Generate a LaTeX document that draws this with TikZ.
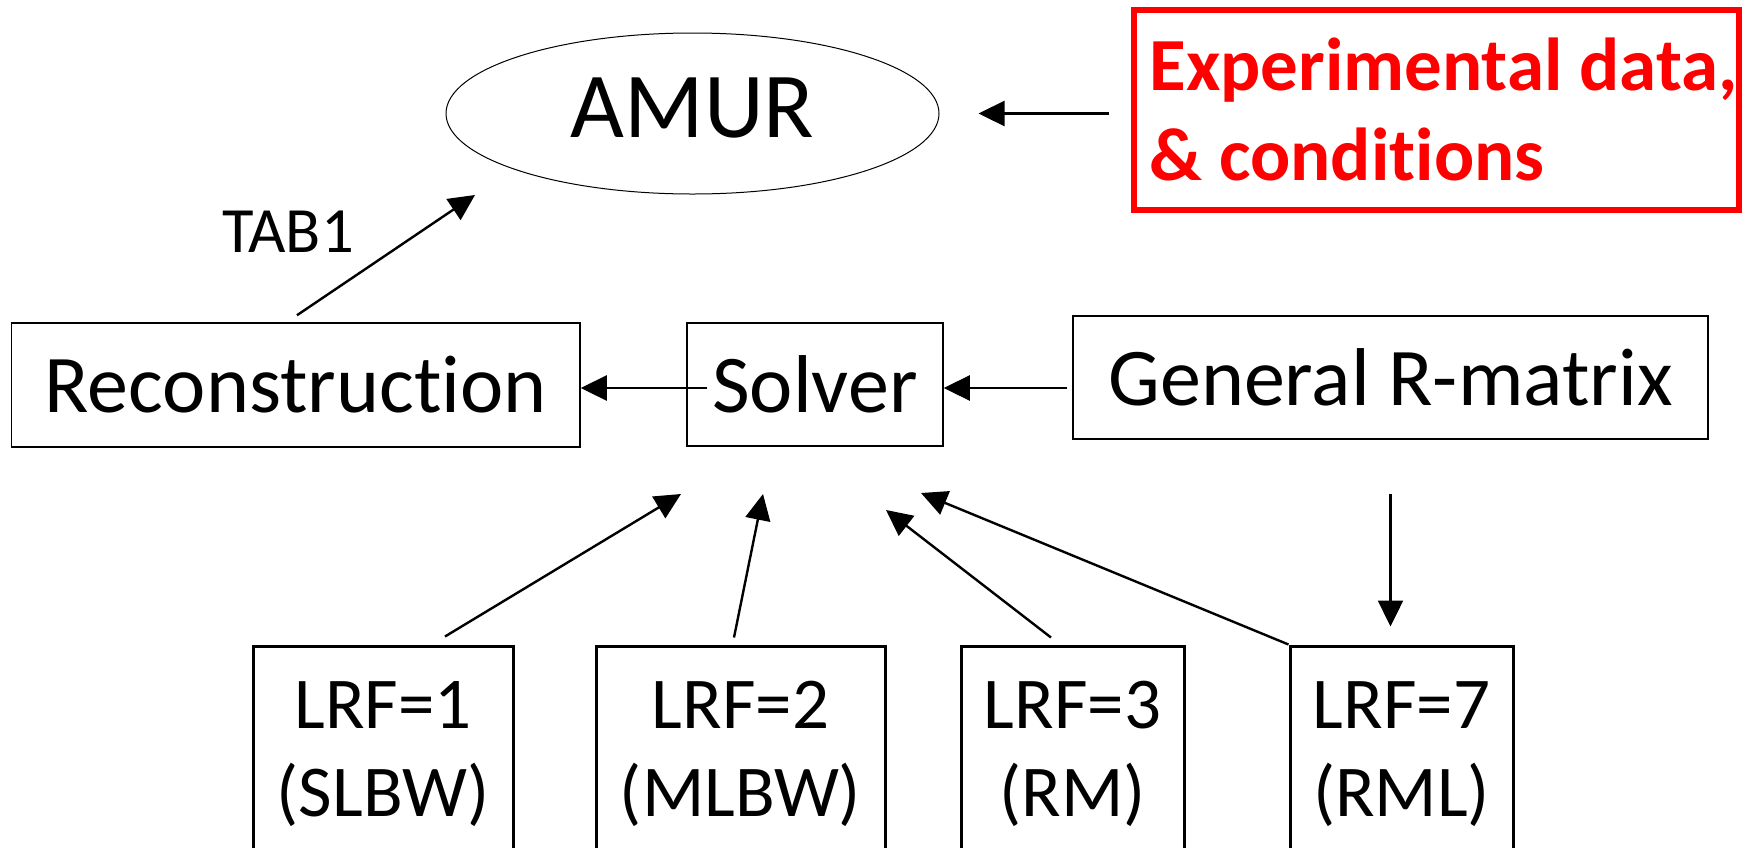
\documentclass[tikz,border=0pt]{standalone}
\usepackage{fontspec}
\setmainfont{Carlito}[Ligatures=NoCommon]
\usetikzlibrary{arrows.meta,shapes.geometric,calc}
\definecolor{expred}{RGB}{255,0,0}
\begin{document}
\begin{tikzpicture}[x=0.5pt,y=-0.5pt,
  arr/.style={line width=1.2pt,-{Triangle[length=13pt,width=12.5pt]}},
  midbox/.style={draw,line width=0.75pt,inner sep=0pt,minimum height=61.5pt,
    font=\fontsize{41pt}{49pt}\selectfont},
  lrfbox/.style={draw,line width=1.5pt,inner sep=0pt,align=center,minimum height=108pt,
    font=\fontsize{36.5pt}{44pt}\selectfont},
  exptext/.style={anchor=base west,inner sep=0pt,text=expred,
    font=\bfseries\fontsize{37.5pt}{45pt}\selectfont}]
\useasboundingbox (0,0) rectangle (1757,847);

% top row
\node[draw,ellipse,line width=0.5pt,minimum width=246.5pt,minimum height=80.5pt,
  inner sep=0pt,text depth=6pt,font=\fontsize{46.5pt}{56pt}\selectfont] (amur) at (692.5,113.5) {AMUR};
\node[draw=expred,line width=3pt,minimum width=302.5pt,minimum height=100pt,inner sep=0pt] (exp) at (1436.5,110) {};
\node[exptext] (expa) at (1149,90) {Experimental data,};
\node[exptext] (expb) at (1149,180) {\& conditions};
\node[inner sep=0pt,font=\fontsize{32.3pt}{38pt}\selectfont] (tab) at (288,232) {TAB1};

% middle row
\node[midbox,minimum width=284.25pt,minimum height=62pt] (recon) at (295.75,385) {Reconstruction};
\node[midbox,minimum width=128pt] (solver) at (815,384.5) {Solver};
\node[midbox,minimum width=317.5pt] (general) at (1390.5,377.5) {General R-matrix};

% bottom row
\node[lrfbox,minimum width=130pt] (lrf1) at (383,754) {LRF=1\\(SLBW)};
\node[lrfbox,minimum width=144.5pt] (lrf2) at (740.5,754) {LRF=2\\(MLBW)};
\node[lrfbox,minimum width=111.5pt] (lrf3) at (1072.5,754) {LRF=3\\(RM)};
\node[lrfbox,minimum width=111.5pt] (lrf7) at (1401.5,754) {LRF=7\\(RML)};

% free ends of the connectors
\coordinate (midrow) at (0,388);
\coordinate (tabtip) at (475,195);
\coordinate (t1) at (681,494);
\coordinate (t2) at (763,494);
\coordinate (t3) at (886,510);
\coordinate (t7) at (921,493);

% connectors
\draw[arr] ([shift={(0.6pt,3.5pt)}]recon.north) -- (tabtip);
\draw[arr,shorten <=11pt,shorten >=19.5pt] (exp.west |- amur.east) -- (amur.east);
\draw[arr,shorten <=-10.5pt] (solver.west |- midrow) -- (recon.east |- midrow);
\draw[arr,shorten <=2.5pt] (general.west |- midrow) -- (solver.east |- midrow);
\draw[arr,shorten <=27pt,shorten >=9pt] (general.south) -- (general.south |- lrf7.north);
\draw[arr] ([shift={(31pt,4pt)}]lrf1.north) -- (t1);
\draw[arr] ([shift={(-3.25pt,3.5pt)}]lrf2.north) -- (t2);
\draw[arr] ([shift={(-10.75pt,3.5pt)}]lrf3.north) -- (t3);
\draw[arr] (lrf7.north west) -- (t7);
\end{tikzpicture}
\end{document}
